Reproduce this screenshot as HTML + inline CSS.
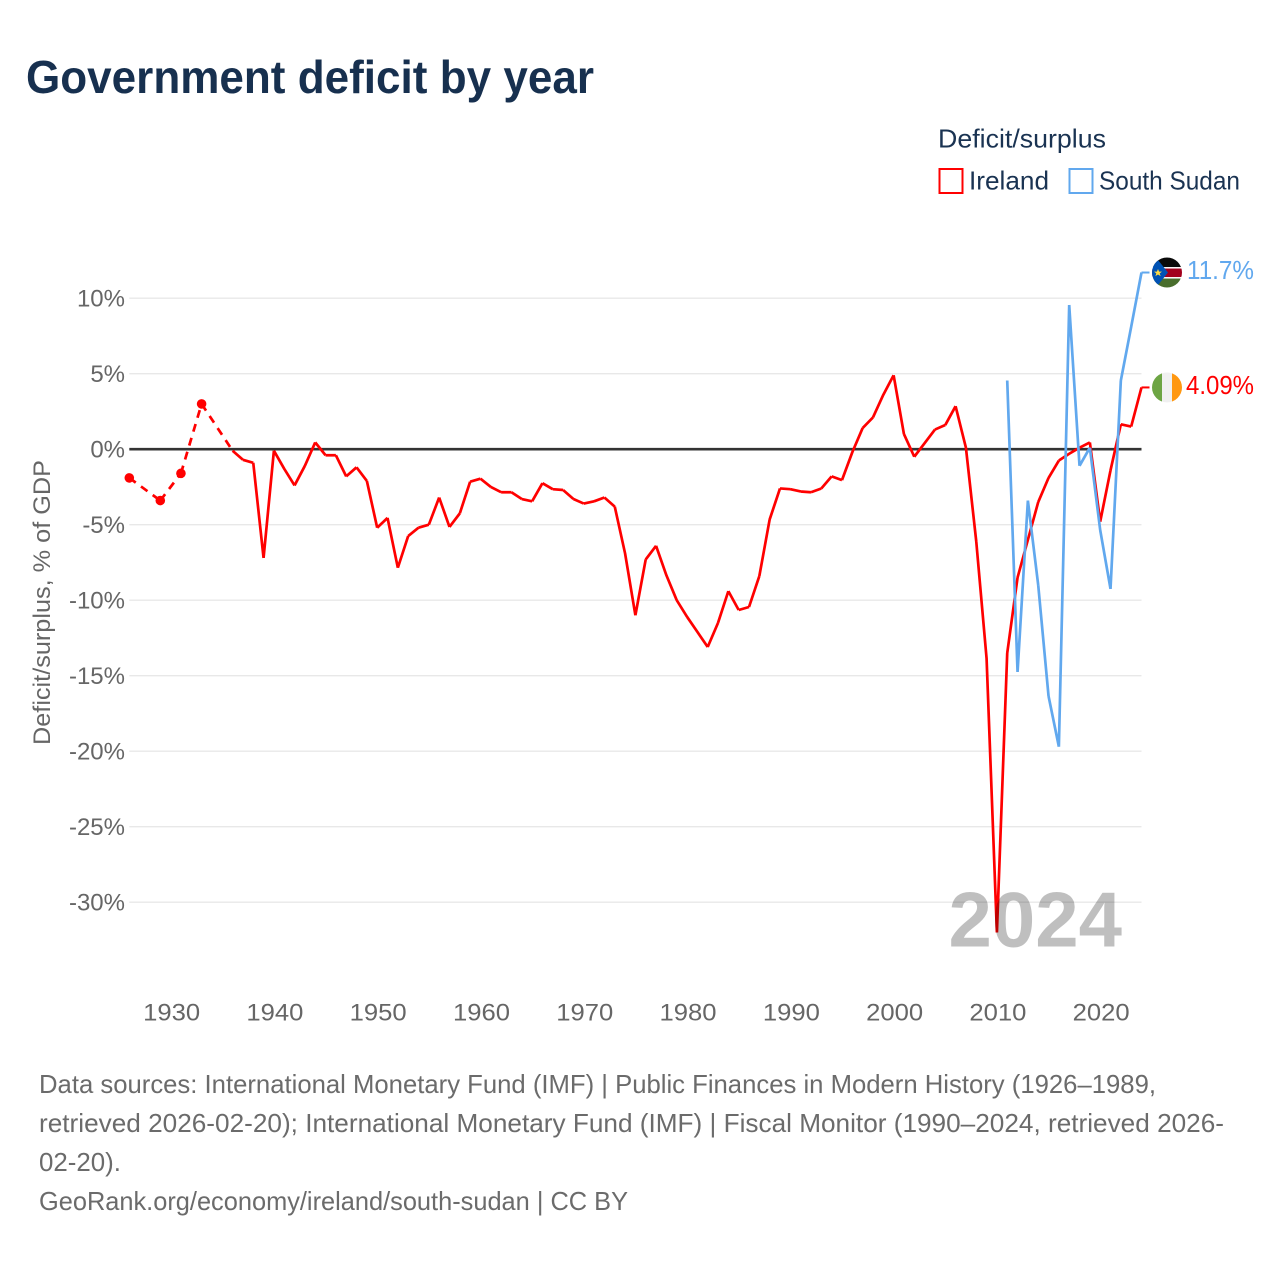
<!DOCTYPE html>
<html lang="en">
<head>
<meta charset="utf-8">
<title>Government deficit by year</title>
<style>
html,body{margin:0;padding:0;background:#fff;}
svg{display:block;font-family:"Liberation Sans",sans-serif;}
</style>
</head>
<body>
<svg id="chart" xmlns="http://www.w3.org/2000/svg" width="1280" height="1280" viewBox="0 0 1280 1280">
  <defs>
    <clipPath id="flag-clip"><circle cx="0" cy="0" r="15"/></clipPath>
  </defs>
  <rect x="0" y="0" width="1280" height="1280" fill="#fff"/>
  <text x="26" y="93" font-size="46" font-weight="700" fill="#17304f" textLength="568" lengthAdjust="spacingAndGlyphs">Government deficit by year</text>

  <text x="938" y="147.5" font-size="26" fill="#1a3352" textLength="168" lengthAdjust="spacingAndGlyphs">Deficit/surplus</text>
  <rect x="939.5" y="169" width="23" height="24" fill="none" stroke="#ff0000" stroke-width="2"/>
  <text x="969" y="189.5" font-size="26" fill="#1a3352" textLength="80" lengthAdjust="spacingAndGlyphs">Ireland</text>
  <rect x="1069.5" y="169" width="23" height="24" fill="none" stroke="#61a8ee" stroke-width="2"/>
  <text x="1099" y="189.5" font-size="26" fill="#1a3352" textLength="141" lengthAdjust="spacingAndGlyphs">South Sudan</text>

  <g id="grid"></g>
  <g id="y-axis"></g>
  <g id="x-axis"></g>
  <text transform="translate(50,602.5) rotate(-90)" text-anchor="middle" font-size="24" fill="#666" textLength="285" lengthAdjust="spacingAndGlyphs">Deficit/surplus, % of GDP</text>

  <g id="series"></g>

  <g id="flag-south-sudan">
    <g clip-path="url(#flag-clip)">
      <rect x="-15" y="-15" width="30" height="30" fill="#fff"/>
      <rect x="-15" y="-15" width="30" height="9.5" fill="#0a0a0a"/>
      <rect x="-15" y="-4" width="30" height="8.5" fill="#a2001d"/>
      <rect x="-15" y="6" width="30" height="9" fill="#496e2d"/>
      <polygon points="-15,-15 -11,-15 1,0 -11,15 -15,15" fill="#0052b4"/>
      <polygon points="-9,-3.5 -7.9,-0.9 -5,-0.9 -7.3,0.9 -6.4,3.6 -9,2 -11.6,3.6 -10.7,0.9 -13,-0.9 -10.1,-0.9" fill="#ffda44"/>
    </g>
  </g>
  <g id="flag-ireland">
    <g clip-path="url(#flag-clip)">
      <rect x="-15" y="-15" width="10" height="30" fill="#6da544"/>
      <rect x="-5" y="-15" width="10" height="30" fill="#f0f0f0"/>
      <rect x="5" y="-15" width="10" height="30" fill="#ff9811"/>
    </g>
  </g>

  <text x="1122" y="946.5" text-anchor="end" font-size="78" font-weight="700" fill="#000" fill-opacity="0.25">2024</text>

  <g font-size="26" fill="#6b6b6b">
    <text x="39" y="1093" textLength="1117" lengthAdjust="spacingAndGlyphs">Data sources: International Monetary Fund (IMF) | Public Finances in Modern History (1926–1989,</text>
    <text x="39" y="1132" textLength="1185" lengthAdjust="spacingAndGlyphs">retrieved 2026-02-20); International Monetary Fund (IMF) | Fiscal Monitor (1990–2024, retrieved 2026-</text>
    <text x="39" y="1171" textLength="82" lengthAdjust="spacingAndGlyphs">02-20).</text>
    <text x="39" y="1210" textLength="589" lengthAdjust="spacingAndGlyphs">GeoRank.org/economy/ireland/south-sudan | CC BY</text>
  </g>
</svg>
<script>
const years = [1926,1927,1928,1929,1930,1931,1932,1933,1934,1935,1936,1937,1938,1939,
  1940,1941,1942,1943,1944,1945,1946,1947,1948,1949,
  1950,1951,1952,1953,1954,1955,1956,1957,1958,1959,
  1960,1961,1962,1963,1964,1965,1966,1967,1968,1969,
  1970,1971,1972,1973,1974,1975,1976,1977,1978,1979,
  1980,1981,1982,1983,1984,1985,1986,1987,1988,1989,
  1990,1991,1992,1993,1994,1995,1996,1997,1998,1999,
  2000,2001,2002,2003,2004,2005,2006,2007,2008,2009,
  2010,2011,2012,2013,2014,2015,2016,2017,2018,2019,
  2020,2021,2022,2023,2024];
const irelandValues = [-1.9,null,null,-3.4,null,-1.6,null,3.0,null,null,-0.1,-0.7,-0.9,-7.2,
  -0.1,-1.3,-2.4,-1.1,0.45,-0.4,-0.4,-1.8,-1.2,-2.1,
  -5.2,-4.55,-7.85,-5.75,-5.2,-5.0,-3.2,-5.15,-4.25,-2.15,
  -1.95,-2.5,-2.85,-2.85,-3.3,-3.45,-2.25,-2.65,-2.7,-3.3,
  -3.6,-3.45,-3.2,-3.8,-6.9,-11.0,-7.3,-6.4,-8.35,-10.0,
  -11.1,-12.1,-13.1,-11.5,-9.4,-10.65,-10.45,-8.4,-4.65,-2.6,
  -2.65,-2.8,-2.85,-2.6,-1.8,-2.05,-0.2,1.4,2.1,3.6,
  4.9,1.0,-0.5,0.4,1.3,1.6,2.85,0.1,-6.1,-13.85,
  -32.0,-13.5,-8.5,-6.0,-3.5,-1.9,-0.75,-0.3,0.1,0.45,
  -4.8,-1.4,1.65,1.5,4.09];
const southSudanValues = [null,null,null,null,null,null,null,null,null,null,null,null,null,null,
  null,null,null,null,null,null,null,null,null,null,
  null,null,null,null,null,null,null,null,null,null,
  null,null,null,null,null,null,null,null,null,null,
  null,null,null,null,null,null,null,null,null,null,
  null,null,null,null,null,null,null,null,null,null,
  null,null,null,null,null,null,null,null,null,null,
  null,null,null,null,null,null,null,null,null,null,
  null,4.55,-14.75,-3.4,-9.0,-16.35,-19.7,9.55,-1.1,0.1,
  -5.35,-9.25,4.55,8.1,11.7];
const xTickYears = [1930,1940,1950,1960,1970,1980,1990,2000,2010,2020];
const yTickValues = [10,5,0,-5,-10,-15,-20,-25,-30];
const irelandEndLabel = "4.09%";
const southSudanEndLabel = "11.7%";

const SVG_NS = "http://www.w3.org/2000/svg";
const X_LEFT = 129.3, X_RIGHT = 1141.5, Y_ZERO = 449.2, PX_PER_UNIT = 15.1;
function xScale(year) {
  return X_LEFT + (year - years[0]) * (X_RIGHT - X_LEFT) / (years[years.length - 1] - years[0]);
}
function yScale(value) {
  return Y_ZERO - value * PX_PER_UNIT;
}
function make(tag, parent, attrs) {
  const el = document.createElementNS(SVG_NS, tag);
  for (const k in attrs) el.setAttribute(k, attrs[k]);
  parent.appendChild(el);
  return el;
}

const gridGroup = document.getElementById("grid");
const yAxisGroup = document.getElementById("y-axis");
const xAxisGroup = document.getElementById("x-axis");
const seriesGroup = document.getElementById("series");

yTickValues.filter(v => v !== 0).forEach(v => {
  const line = make("line", gridGroup, {x1: X_LEFT, x2: X_RIGHT, y1: yScale(v), y2: yScale(v), stroke: "#e8e8e8", "stroke-width": 1.4});
  
  
});
yTickValues.forEach(v => {
  const t = make("text", yAxisGroup, {x: 125, y: yScale(v) + 8.2, "text-anchor": "end", "font-size": 24, fill: "#666"});
  
  
  t.textContent = v + "%";
});
xTickYears.forEach(y => {
  const t = make("text", xAxisGroup, {x: xScale(y) + 1, y: 1020.5, "text-anchor": "middle", "font-size": 24, fill: "#666", textLength: 57, lengthAdjust: "spacingAndGlyphs"});
  
  
  t.textContent = y;
});

function drawSeries(values, color, key) {
  const known = [];
  values.forEach((v, i) => { if (v !== null) known.push(i); });
  const dashParts = [];
  const solidParts = [];
  for (let n = 1; n < known.length; n++) {
    const a = known[n - 1], b = known[n];
    const seg = "M" + xScale(years[a]) + " " + yScale(values[a]) + "L" + xScale(years[b]) + " " + yScale(values[b]);
    if (b - a === 1) solidParts.push(seg); else dashParts.push(seg);
  }
  if (dashParts.length) {
    const dashed = make("path", seriesGroup, {d: dashParts.join(""), fill: "none", stroke: color, "stroke-width": 2.7, "stroke-dasharray": "8 6.5"});
    
    
  }
  const solid = make("path", seriesGroup, {d: solidParts.join(""), fill: "none", stroke: color, "stroke-width": 2.7, "stroke-linejoin": "miter", "stroke-miterlimit": 10});
  
  
  known.forEach(i => {
    const prev = values[i - 1], next = values[i + 1];
    if ((prev === null || prev === undefined) && (next === null || next === undefined)) {
      const dot = make("circle", seriesGroup, {cx: xScale(years[i]), cy: yScale(values[i]), r: 4.8, fill: color});
      
      
    }
  });
  const lastIdx = known[known.length - 1];
  const lx = xScale(years[lastIdx]);
  const ly = yScale(values[lastIdx]);
  const conn = make("line", seriesGroup, {x1: lx, x2: lx + 8, y1: ly, y2: ly, stroke: color, "stroke-width": 2});
  
  
  return {x: lx, y: ly};
}

const zeroLine = make("line", seriesGroup, {x1: X_LEFT, x2: X_RIGHT, y1: yScale(0), y2: yScale(0), stroke: "#333", "stroke-width": 2.6});



const irelandEnd = drawSeries(irelandValues, "#ff0000", "ireland");
const southSudanEnd = drawSeries(southSudanValues, "#61a8ee", "south-sudan");

document.getElementById("flag-ireland").setAttribute("transform", "translate(" + (irelandEnd.x + 25.5) + "," + irelandEnd.y + ")");
document.getElementById("flag-south-sudan").setAttribute("transform", "translate(" + (southSudanEnd.x + 25.5) + "," + southSudanEnd.y + ")");

const irelandLabel = make("text", seriesGroup, {x: 1186, y: irelandEnd.y + 6.5, "font-size": 26, fill: "#ff0000", textLength: 68, lengthAdjust: "spacingAndGlyphs"});


irelandLabel.textContent = irelandEndLabel;

const southSudanLabel = make("text", seriesGroup, {x: 1187, y: southSudanEnd.y + 6.5, "font-size": 26, fill: "#61a8ee", textLength: 67, lengthAdjust: "spacingAndGlyphs"});


southSudanLabel.textContent = southSudanEndLabel;
</script>
</body>
</html>
